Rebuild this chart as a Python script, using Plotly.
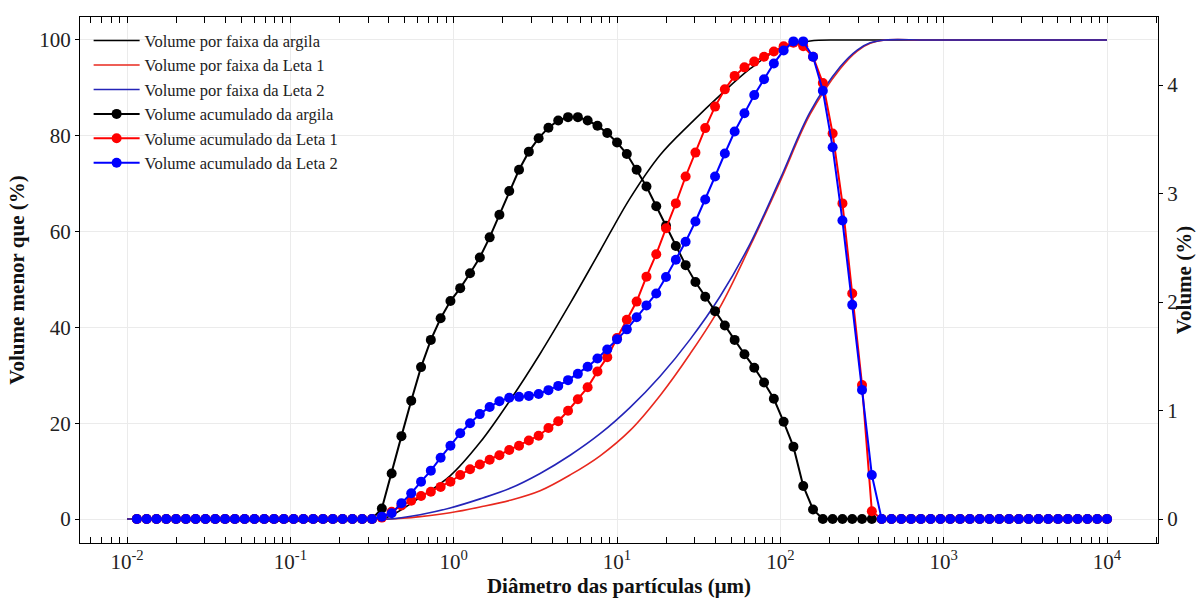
import plotly.graph_objects as go

# Particle diameter classes (µm) for the per-class (marker) series
diametros = [
    0.01148, 0.01318, 0.01514, 0.01738, 0.01995, 0.02291, 0.02630, 0.03020, 0.03467, 0.03981,
    0.04571, 0.05248, 0.06026, 0.06918, 0.07943, 0.09120, 0.1047, 0.1202, 0.1380, 0.1585,
    0.1820, 0.2089, 0.2399, 0.2754, 0.3162, 0.3631, 0.4169, 0.4786, 0.5495, 0.6310,
    0.7244, 0.8318, 0.9550, 1.096, 1.259, 1.445, 1.660, 1.905, 2.188, 2.512,
    2.884, 3.311, 3.802, 4.365, 5.012, 5.754, 6.607, 7.586, 8.710, 10.00,
    11.48, 13.18, 15.14, 17.38, 19.95, 22.91, 26.30, 30.20, 34.67, 39.81,
    45.71, 52.48, 60.26, 69.18, 79.43, 91.20, 104.7, 120.2, 138.0, 158.5,
    182.0, 208.9, 239.9, 275.4, 316.2, 363.1, 416.9, 478.6, 549.5, 631.0,
    724.4, 831.8, 955.0, 1096, 1259, 1445, 1660, 1905, 2188, 2512,
    2884, 3311, 3802, 4365, 5012, 5754, 6607, 7586, 8710, 10000,
]

# Volume (%) per class (right axis)
argila_pts = [0] * 25 + [
    0.097, 0.419, 0.764, 1.091, 1.400, 1.651, 1.850, 2.009, 2.128, 2.265,
    2.411, 2.596, 2.804, 3.024, 3.219, 3.386, 3.510, 3.607, 3.673, 3.704,
    3.704, 3.673, 3.625, 3.558, 3.470, 3.364, 3.219, 3.064, 2.883, 2.702,
    2.517, 2.340, 2.185, 2.049, 1.916, 1.784, 1.651, 1.519, 1.395, 1.258,
    1.108, 0.896, 0.667, 0.305, 0.088,
] + [0] * 30

leta1_pts = [0] * 25 + [
    0.013, 0.066, 0.124, 0.168, 0.212, 0.252, 0.296, 0.344, 0.406, 0.459,
    0.503, 0.547, 0.587, 0.636, 0.675, 0.724, 0.768, 0.839, 0.901, 0.998,
    1.104, 1.214, 1.360, 1.492, 1.669, 1.837, 2.004, 2.234, 2.441, 2.680,
    2.909, 3.157, 3.377, 3.603, 3.801, 3.960, 4.084, 4.163, 4.216, 4.260,
    4.309, 4.358, 4.389, 4.358, 4.260, 4.018, 3.554, 2.909, 2.079, 1.236,
    0.071,
] + [0] * 24

leta2_pts = [0] * 25 + [
    0.022, 0.053, 0.146, 0.238, 0.344, 0.446, 0.565, 0.675, 0.790, 0.883,
    0.967, 1.033, 1.086, 1.117, 1.126, 1.135, 1.152, 1.188, 1.227, 1.280,
    1.338, 1.404, 1.479, 1.563, 1.656, 1.748, 1.859, 1.969, 2.079, 2.230,
    2.389, 2.556, 2.742, 2.945, 3.157, 3.369, 3.572, 3.740, 3.907, 4.053,
    4.199, 4.318, 4.402, 4.402, 4.260, 3.947, 3.426, 2.751, 1.974, 1.190,
    0.406,
] + [0] * 24

# Smooth curves (left axis, %): diameters where values were read
curva_d = [0.01, 0.354, 0.4078, 0.6223, 0.9506, 1.451, 2.215, 3.381, 5.162, 7.880,
           12.03, 18.36, 28.03, 42.80, 65.33, 99.7, 152.2, 232.4, 295.3, 354.8, 438.4, 800, 10000]
argila_v = [0, 0, 0.6, 4.5, 9.0, 16.0, 24.8, 34.5, 45.0, 56.0,
            67.0, 76.0, 82.5, 88.5, 94.0, 98.2, 99.8, 100, 100, 100, 100, 100, 100]
leta1_v = [0, 0, 0, 0.5, 1.3, 2.5, 3.9, 5.9, 9.2, 13.2,
           18.5, 25.8, 34.5, 44.3, 57.0, 70.5, 84.5, 94.0, 97.7, 99.3, 100, 100, 100]
leta2_v = [0, 0, 0, 0.9, 2.3, 4.2, 6.4, 9.5, 13.3, 17.8,
           23.3, 29.8, 37.5, 46.5, 57.5, 71.0, 85.0, 94.4, 97.9, 99.4, 100, 100, 100]

x_tickvals = [0.01, 0.1, 1, 10, 100, 1000, 10000]
x_ticktext = ["10<sup>-2</sup>", "10<sup>-1</sup>", "10<sup>0</sup>", "10<sup>1</sup>",
              "10<sup>2</sup>", "10<sup>3</sup>", "10<sup>4</sup>"]

FONT = "Liberation Serif, Times New Roman, serif"

fig = go.Figure()

line_specs = [
    ("Volume por faixa da argila", argila_v, "#000000"),
    ("Volume por faixa da Leta 1", leta1_v, "#e8281e"),
    ("Volume por faixa da Leta 2", leta2_v, "#2424b8"),
]
for name, v, c in line_specs:
    fig.add_trace(go.Scatter(
        x=curva_d, y=v, mode="lines", name=name,
        line=dict(color=c, width=1.6, shape="spline", smoothing=1.0),
        yaxis="y",
    ))

pt_specs = [
    ("Volume acumulado da argila", argila_pts, "#000000"),
    ("Volume acumulado da Leta 1", leta1_pts, "#ff0000"),
    ("Volume acumulado da Leta 2", leta2_pts, "#0000ff"),
]
for name, v, c in pt_specs:
    fig.add_trace(go.Scatter(
        x=diametros, y=v, mode="lines+markers", name=name,
        line=dict(color=c, width=2),
        marker=dict(color=c, size=10, symbol="circle"),
        yaxis="y2",
    ))

fig.update_layout(
    width=1196, height=601,
    margin=dict(l=80, r=38, t=17, b=58),
    paper_bgcolor="white", plot_bgcolor="white",
    font=dict(family=FONT, size=15, color="#222222"),
    showlegend=True,
    legend=dict(
        x=0.008, y=0.988, xanchor="left", yanchor="top",
        bgcolor="rgba(255,255,255,0)", borderwidth=0,
        font=dict(family=FONT, size=16.5, color="#222222"),
        tracegroupgap=0, itemwidth=46,
    ),
    xaxis=dict(
        type="log", range=[-2.288, 4.312], automargin=False,
        tickvals=x_tickvals, ticktext=x_ticktext,
        ticks="inside", ticklen=6, tickcolor="black",
        showline=True, linecolor="black", linewidth=1.2, mirror="allticks",
        showgrid=True, gridcolor="#ebebeb", gridwidth=1,
        zeroline=False,
        minor=dict(ticks="inside", ticklen=3, tickcolor="black", dtick="D1", showgrid=False),
        tickfont=dict(family=FONT, size=21, color="#222222"),
        title=dict(text="<b>Diâmetro das partículas (μm)</b>", standoff=0,
                   font=dict(family=FONT, size=21, color="#111111")),
    ),
    yaxis=dict(
        range=[-5.01, 104.8], tickvals=[0, 20, 40, 60, 80, 100], automargin=False,
        ticks="outside", ticklen=4, tickcolor="black",
        showline=True, linecolor="black", linewidth=1.2,
        showgrid=True, gridcolor="#ebebeb", gridwidth=1, zeroline=False,
        tickfont=dict(family=FONT, size=21, color="#222222"),
        title=dict(text="<b>Volume menor que (%)</b>", standoff=8,
                   font=dict(family=FONT, size=21, color="#111111")),
    ),
    yaxis2=dict(
        overlaying="y", side="right", automargin=False,
        range=[-0.221, 4.627], tickvals=[0, 1, 2, 3, 4],
        ticks="outside", ticklen=4, tickcolor="black",
        showline=True, linecolor="black", linewidth=1.2,
        showgrid=False, zeroline=False,
        tickfont=dict(family=FONT, size=21, color="#222222"),
        title=dict(text="<b>Volume (%)</b>", standoff=6,
                   font=dict(family=FONT, size=21, color="#111111")),
    ),
)

fig.write_html("out.html")
